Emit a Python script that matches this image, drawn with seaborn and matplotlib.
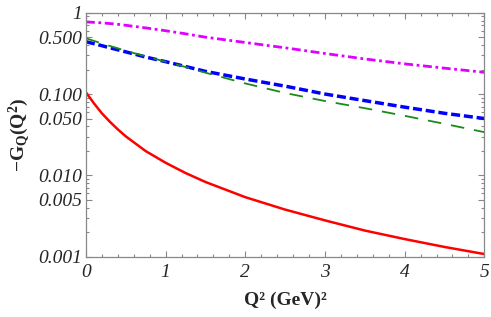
import numpy as np
import pandas as pd
import seaborn as sns
import matplotlib.pyplot as plt
from matplotlib.ticker import FixedLocator, FixedFormatter, MultipleLocator, NullFormatter

# Q^2 grid (GeV^2) and the four curves
q2 = [0, 0.1, 0.2, 0.3, 0.4, 0.5, 0.75, 1, 1.25, 1.5, 2, 2.5, 3, 3.5, 4, 4.5, 5]
red_vals = [0.105, 0.077, 0.058, 0.0457, 0.0368, 0.0302, 0.0199, 0.0143, 0.0107, 0.0083,
            0.0054, 0.0038, 0.0028, 0.0021, 0.00165, 0.00132, 0.00108]
magenta_vals = [0.77, 0.76, 0.75, 0.735, 0.72, 0.70, 0.65, 0.60, 0.55, 0.50,
                0.43, 0.37, 0.315, 0.27, 0.235, 0.208, 0.185]
blue_vals = [0.44, 0.416, 0.393, 0.37, 0.35, 0.33, 0.285, 0.25, 0.218, 0.19,
             0.153, 0.125, 0.10, 0.083, 0.069, 0.058, 0.050]
green_vals = [0.485, 0.45, 0.42, 0.39, 0.365, 0.34, 0.29, 0.25, 0.215, 0.183,
              0.135, 0.103, 0.082, 0.067, 0.054, 0.043, 0.034]

y_ticks = [0.001, 0.005, 0.010, 0.050, 0.100, 0.500, 1]
y_ticklabels = ["0.001", "0.005", "0.010", "0.050", "0.100", "0.500", "1"]
x_ticks = [0, 1, 2, 3, 4, 5]

sns.set_theme(style="ticks")
plt.rcParams["font.family"] = ["Liberation Serif", "DejaVu Serif"]
plt.rcParams["mathtext.fontset"] = "custom"
plt.rcParams["mathtext.rm"] = "Liberation Serif:bold"
plt.rcParams["mathtext.it"] = "Liberation Serif:bold"
plt.rcParams["mathtext.bf"] = "Liberation Serif:bold"

df = pd.DataFrame({
    "q2": q2 * 4,
    "val": red_vals + magenta_vals + blue_vals + green_vals,
    "curve": ["red"] * len(q2) + ["magenta"] * len(q2) + ["blue"] * len(q2) + ["green"] * len(q2),
})

fig = plt.figure(figsize=(4.91, 3.17), dpi=100)
ax = fig.add_axes([0.175, 0.19, 0.8115, 0.77])

styles = {
    "red": dict(color="#ff0000", lw=1.8, dashes=None),
    "magenta": dict(color="#e000ff", lw=2.0, dashes=(3.2, 1.3, 1.0, 1.3)),
    "blue": dict(color="#0000ff", lw=2.5, dashes=(2.6, 1.1)),
    "green": dict(color="#1a8a1a", lw=1.3, dashes=(7.5, 5.5)),
}

for name, st in styles.items():
    sub = df[df["curve"] == name]
    line = sns.lineplot(data=sub, x="q2", y="val", ax=ax, color=st["color"],
                        linewidth=st["lw"], legend=False)
    if st["dashes"] is not None:
        line.get_lines()[-1].set_dashes(st["dashes"])

ax.set_yscale("log")
ax.set_xlim(0, 5)
ax.set_ylim(0.001, 1)

ax.xaxis.set_major_locator(FixedLocator(x_ticks))
ax.xaxis.set_minor_locator(MultipleLocator(0.2))
ax.yaxis.set_major_locator(FixedLocator(y_ticks))
ax.yaxis.set_major_formatter(FixedFormatter(y_ticklabels))
minor_y = [m * 10.0 ** e for e in (-3, -2, -1) for m in (2, 3, 4, 6, 7, 8, 9)]
ax.yaxis.set_minor_locator(FixedLocator(minor_y))
ax.yaxis.set_minor_formatter(NullFormatter())

frame = "#888888"
for sp in ax.spines.values():
    sp.set_color(frame)
    sp.set_linewidth(0.9)
ax.tick_params(which="both", direction="in", top=True, right=True, color=frame, width=0.8)
ax.tick_params(which="major", length=4.5, labelsize=14, pad=3)
ax.tick_params(axis="x", which="major", pad=5)
ax.tick_params(which="minor", length=2.5)
for lab in ax.get_xticklabels() + ax.get_yticklabels():
    lab.set_fontstyle("italic")

ax.set_xlabel("Q² (GeV)²", fontsize=14, fontweight="bold", labelpad=8)
ax.set_ylabel(r"$\mathbf{-G_Q(Q^2)}$", fontsize=14, labelpad=4)

fig.savefig("out.png", dpi=100)
